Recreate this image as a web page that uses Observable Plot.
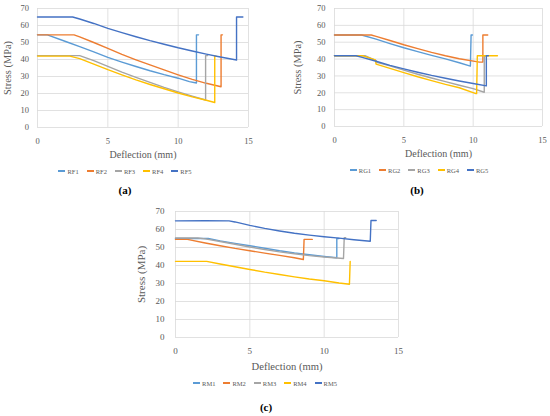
<!DOCTYPE html>
<html>
<head>
<meta charset="utf-8">
<script src="https://cdn.jsdelivr.net/npm/d3@7"></script>
<script src="https://cdn.jsdelivr.net/npm/@observablehq/plot@0.6"></script>
<style>
  html, body { margin: 0; padding: 0; background: #fff; }
  #root { position: relative; width: 550px; height: 416px; overflow: hidden; font-family: "Liberation Serif", "DejaVu Serif", "Times New Roman", serif; }
  .panel { position: absolute; }
  .panel svg { position: absolute; left: 0; top: 0; overflow: visible; }
  .legend { position: absolute; display: flex; justify-content: center; align-items: center; gap: 8px;
            font-size: 6.5px; color: #595959; white-space: nowrap; }
  .legend .item { display: flex; align-items: center; gap: 2px; }
  .legend .sw { display: inline-block; width: 7px; height: 1.4px; }
  .caption { position: absolute; font-weight: bold; font-size: 11px; color: #000; transform: translate(-50%, -50%); white-space: nowrap; }
</style>
</head>
<body>
<div id="root"></div>
<script>
// ---- tick labels ----
const xTicks = [0, 5, 10, 15];
const yTicks = [0, 10, 20, 30, 40, 50, 60, 70];
const seriesColors = ["#5B9BD5", "#ED7D31", "#A5A5A5", "#FFC000", "#4472C4"];

// ---- (a) RF series: [deflection mm, stress MPa] ----
const namesA = ["RF1", "RF2", "RF3", "RF4", "RF5"];
const RF1 = [[0,54.5],[0.7,54.5],[2,50.6],[3,47.6],[4,44.5],[5,41.3],[6,38.5],[7,35.9],[8,33.4],[9,31.1],[10,29],[10.8,27],[11.3,26.2],[11.3,54.5],[11.45,54.5]];
const RF2 = [[0,54.5],[2.6,54.5],[3,53.3],[4,50],[5,46.5],[6,43],[7,39.8],[8,36.8],[9,33.9],[10,31],[11,28.3],[12,26],[13.05,24],[13.05,54.5],[13.15,54.5]];
const RF3 = [[0,42.3],[3.0,42.3],[4,39.3],[5,36],[6,32.6],[7,29.5],[8,26.5],[9,23.6],[10,21],[11,18.5],[11.95,16.2],[11.95,42.3],[12.1,42.3]];
const RF4 = [[0,42],[2.3,42],[3,40.5],[4,37.3],[5,34],[6,31],[7,28],[8,25.3],[9,22.8],[10,20.3],[11,18],[12,16],[12.6,14.7],[12.6,42],[12.7,42]];
const RF5 = [[0,65],[2.5,65],[3,63.8],[4,61.2],[5,58.3],[6,55.8],[7,53.4],[8,51.1],[9,49],[10,46.9],[11,45],[12,43.2],[13,41.5],[14.15,39.7],[14.15,65],[14.6,65]];

// ---- (b) RG series ----
const namesB = ["RG1", "RG2", "RG3", "RG4", "RG5"];
const RG1 = [[0,54.3],[1.95,54.3],[3,51.8],[4,49.2],[5,46.7],[6,44.4],[7,42.2],[8,40.1],[9,37.8],[9.8,35.8],[9.85,54.3],[9.95,54.3]];
const RG2 = [[0,54.3],[2.65,54.3],[3,53.5],[4,51],[5,48.5],[6,46.2],[7,44],[8,42],[9,40.2],[10.45,38.2],[10.7,38.2],[10.7,54.3],[11.05,54.3]];
const RG3 = [[0,42],[2.2,42],[3,39],[3.05,38],[4,36],[5,33.4],[6,31],[7,28.8],[8,26.6],[9,24.5],[10,22.5],[10.8,20.3],[10.8,42],[10.9,42]];
const RG4 = [[0,42],[2,42],[2.95,39.5],[3.0,37],[4,34.5],[5,32],[6,29.5],[7,27.2],[8,25],[9,23],[10.2,19.5],[10.25,19.5],[10.3,42],[11.75,42]];
const RG5 = [[0,42],[1.55,42],[2,41],[3,38.7],[4,36.3],[5,34.2],[6,32.2],[7,30.3],[8,28.6],[9,27],[10,25.5],[10.95,24.1],[10.95,42],[11.1,42]];

// ---- (c) RM series ----
const namesC = ["RM1", "RM2", "RM3", "RM4", "RM5"];
const RM1 = [[0,55],[2.2,55],[3,53.7],[4,52.3],[5,51],[6,49.6],[7,48.2],[8,47],[9,46],[10,45],[10.85,44.3],[10.85,55],[11,55]];
const RM2 = [[0,54.5],[0.8,54.5],[2,52.5],[3,51],[4,49.5],[5,48.2],[6,46.9],[7,45.6],[8,44.3],[8.6,43.3],[8.65,54.5],[9.2,54.5]];
const RM3 = [[0,55.3],[1.5,55.3],[2,54.8],[3,53.3],[4,51.8],[5,50.3],[6,48.9],[7,47.6],[8,46.5],[9,45.5],[10,44.7],[11.3,43.9],[11.35,55.5],[11.45,55.5]];
const RM4 = [[0,42.3],[2.1,42.3],[3,40.8],[4,39.3],[5,37.8],[6,36.3],[7,35],[8,33.7],[9,32.5],[10,31.5],[11,30.3],[11.7,29.6],[11.75,42.3]];
const RM5 = [[0,64.8],[2,64.9],[3.6,64.8],[4,64.2],[5,62.3],[6,60.6],[7,59.2],[8,57.9],[9,56.9],[10,56],[11,55.2],[12,54.3],[13.1,53.5],[13.15,65],[13.5,65]];

const root = document.getElementById("root");
const FONT = "'Liberation Serif', 'DejaVu Serif', serif";

function panel(cfg) {
  const rows = cfg.names.flatMap((n, i) => cfg.series[i].map(([x, y]) => ({series: n, x, y})));
  const div = document.createElement("div");
  div.className = "panel";
  div.style.left = cfg.left + "px";
  div.style.top = cfg.top + "px";
  div.style.width = cfg.width + "px";
  div.style.height = (cfg.height + 60) + "px";
  const chart = Plot.plot({
    width: cfg.width,
    height: cfg.height,
    marginLeft: cfg.mL, marginRight: cfg.mR, marginTop: cfg.mT, marginBottom: cfg.mB,
    style: {fontFamily: FONT, fontSize: cfg.tickFont + "px", color: "#595959", background: "transparent"},
    x: {domain: [0, 15]},
    y: {domain: [0, 70]},
    color: {domain: cfg.names, range: seriesColors},
    marks: [
      Plot.gridY(yTicks, {stroke: "#D9D9D9", strokeOpacity: 1, strokeWidth: 0.8}),
      Plot.gridX(xTicks, {stroke: "#D9D9D9", strokeOpacity: 1, strokeWidth: 0.8}),
      Plot.axisX(xTicks, {tickSize: 0, tickPadding: cfg.xPad, label: "Deflection (mm)", labelAnchor: "center", labelArrow: "none", labelOffset: cfg.xLabOff, fontSize: cfg.tickFont, fontFamily: FONT}),
      Plot.axisY(yTicks, {tickSize: 0, tickPadding: cfg.yPad, label: "Stress (MPa)", labelAnchor: "center", labelArrow: "none", labelOffset: cfg.yLabOff, fontSize: cfg.tickFont, fontFamily: FONT}),
      Plot.line(rows, {x: "x", y: "y", z: "series", stroke: "series", strokeWidth: 1.4, strokeLinejoin: "round"})
    ]
  });
  div.appendChild(chart);
  chart.querySelectorAll("g[aria-label='x-axis label'], g[aria-label='x-axis label'] text").forEach(t => t.setAttribute("font-size", cfg.xLabFont));
  chart.querySelectorAll("g[aria-label='y-axis label'], g[aria-label='y-axis label'] text").forEach(t => t.setAttribute("font-size", cfg.yLabFont));
  const leg = document.createElement("div");
  leg.className = "legend";
  leg.style.left = (cfg.legX - cfg.left - 100) + "px";
  leg.style.width = "200px";
  leg.style.top = (cfg.legY - cfg.top - 4) + "px";
  leg.style.height = "8px";
  cfg.names.forEach((n, i) => {
    const it = document.createElement("span");
    it.className = "item";
    const sw = document.createElement("span");
    sw.className = "sw";
    sw.style.background = seriesColors[i];
    const tx = document.createElement("span");
    tx.textContent = n;
    it.appendChild(sw); it.appendChild(tx);
    leg.appendChild(it);
  });
  div.appendChild(leg);
  const cap = document.createElement("div");
  cap.className = "caption";
  cap.textContent = cfg.caption;
  cap.style.left = (cfg.capX - cfg.left) + "px";
  cap.style.top = (cfg.capY - cfg.top) + "px";
  div.appendChild(cap);
  root.appendChild(div);
}

panel({names: namesA, series: [RF1, RF2, RF3, RF4, RF5], left: 0, top: 0, width: 275, height: 165,
  mL: 37, mR: 27, mT: 8, mB: 38, xPad: 10, yPad: 8.5, xLabOff: 30.5, yLabOff: 34, tickFont: 8.5, xLabFont: 10, yLabFont: 10.4,
  legX: 125, legY: 171, capX: 125, capY: 190, caption: "(a)"});
panel({names: namesB, series: [RG1, RG2, RG3, RG4, RG5], left: 275, top: 0, width: 275, height: 165,
  mL: 59, mR: 8, mT: 8, mB: 39, xPad: 10, yPad: 9, xLabOff: 30.5, yLabOff: 40.5, tickFont: 8.5, xLabFont: 10, yLabFont: 10.4,
  legX: 419, legY: 170, capX: 417, capY: 190, caption: "(b)"});
panel({names: namesC, series: [RM1, RM2, RM3, RM4, RM5], left: 130, top: 200, width: 290, height: 175,
  mL: 45, mR: 22, mT: 11, mB: 38, xPad: 10, yPad: 11, xLabOff: 32, yLabOff: 38.5, tickFont: 9, xLabFont: 10.6, yLabFont: 11,
  legX: 265, legY: 383, capX: 266, capY: 407, caption: "(c)"});
</script>
</body>
</html>
